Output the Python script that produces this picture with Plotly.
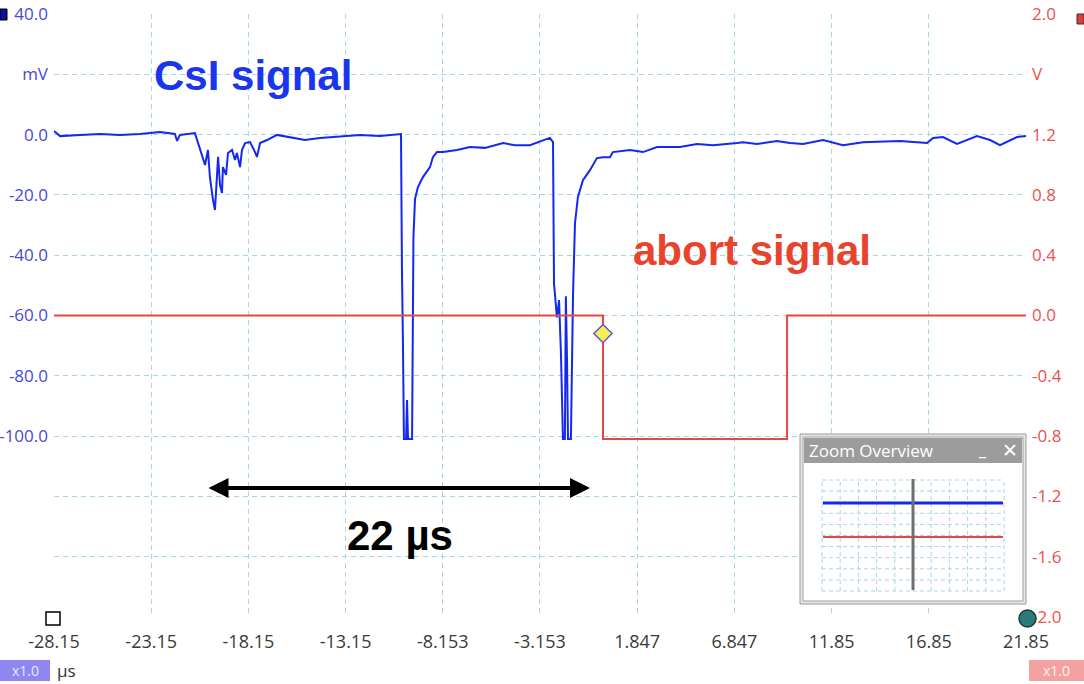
import plotly.graph_objects as go

# ---- data ----
t_csi = [-28.15, -27.84, -26.81, -25.78, -24.76, -23.73, -22.70, -21.93, -21.82, -21.67,
         -20.90, -20.74, -20.54, -20.38, -20.23, -20.13, -19.97, -19.87, -19.77, -19.71,
         -19.61, -19.51, -19.46, -19.30, -19.20, -18.99, -18.84, -18.74, -18.58, -18.48,
         -18.32, -18.07, -17.86, -17.71, -17.55, -17.19, -16.68, -16.01, -15.24, -14.47,
         -13.44, -12.41, -11.38, -10.35, -10.30, -10.25, -10.22, -10.20, -10.15, -10.04,
         -9.99, -9.94, -9.73, -9.68, -9.66, -9.58, -9.43, -9.17, -8.81, -8.66,
         -8.45, -8.14, -7.42, -6.75, -5.98, -5.05, -4.44, -3.67, -3.00, -2.64,
         -2.48, -2.46, -2.43, -2.28, -2.17, -2.07, -1.97, -1.87, -1.82, -1.76,
         -1.71, -1.56, -1.50, -1.45, -1.35, -1.20, -0.94, -0.58, -0.22, 0.09,
         0.45, 0.60, 1.48, 2.15, 2.87, 4.05, 4.93, 5.75, 6.99, 7.29,
         8.01, 9.04, 9.71, 10.38, 11.41, 12.44, 13.47, 15.37, 16.76, 17.07,
         17.58, 18.30, 19.33, 20.00, 20.51, 21.39, 21.85]
v_csi = [1.2, -0.5, -0.1, 0.2, -0.1, 0.2, 0.9, 0.2, -2.1, -0.1,
         0.5, -2.8, -6.1, -10.1, -5.1, -14.1, -21.7, -25.0, -14.1, -7.4,
         -16.7, -19.4, -10.8, -13.4, -6.1, -5.1, -8.4, -6.1, -10.8, -5.1,
         -2.8, -2.5, -5.1, -7.4, -2.8, -1.8, -0.1, -0.8, -1.8, -1.1,
         -0.5, -0.1, -0.5, 0.2, 0.2, -45.9, -54.9, -69.1, -101.0, -101.0,
         -88.0, -101.0, -101.0, -65.8, -34.0, -21.4, -17.4, -14.1, -10.8, -7.5,
         -5.8, -5.8, -5.1, -4.1, -4.4, -2.8, -3.5, -3.5, -1.8, -1.1,
         -2.5, -15.1, -49.3, -60.6, -54.9, -73.1, -101.0, -101.0, -53.6, -74.8,
         -101.0, -101.0, -77.2, -52.6, -29.4, -20.7, -15.1, -11.8, -7.8, -7.5,
         -7.5, -5.8, -5.1, -5.8, -4.1, -4.1, -3.1, -3.5, -2.8, -2.5,
         -3.1, -2.1, -2.8, -3.1, -1.8, -3.5, -2.5, -2.1, -2.8, -1.1,
         -0.8, -3.1, -0.5, -1.8, -3.5, -0.8, -0.5]

t_abort = [-28.15, 0.09, 0.09, 9.56, 9.56, 21.85]
v_abort = [0.0, 0.0, -0.82, -0.82, 0.0, 0.0]

trig_t = [0.09]
trig_v = [-0.12]

x_ticks = [-28.15, -23.15, -18.15, -13.15, -8.153, -3.153, 1.847, 6.847, 11.85, 16.85, 21.85]
x_labels = ["-28.15", "-23.15", "-18.15", "-13.15", "-8.153", "-3.153",
            "1.847", "6.847", "11.85", "16.85", "21.85"]
mv_ticks = [40, 20, 0, -20, -40, -60, -80, -100, -120, -140, -160]
mv_labels = ["40.0", "mV", "0.0", "-20.0", "-40.0", "-60.0", "-80.0", "-100.0", "", "", ""]
v_ticks = [2.0, 1.6, 1.2, 0.8, 0.4, 0.0, -0.4, -0.8, -1.2, -1.6, -2.0]
v_labels = ["2.0", "V", "1.2", "0.8", "0.4", "0.0", "-0.4", "-0.8", "-1.2", "-1.6", "-2.0"]

BLUE = "#1428f0"
RED = "#e84545"
GRID = "#a9d6e5"
FONT = "Open Sans, sans-serif"

# plot area in pixels (1084x684 page)
L, R, T, B = 54, 1026, 14, 617


def px(x):
    return (x - L) / (R - L)


def py(y):
    return (B - y) / (B - T)


def label(x, y, text, size, color, family=FONT, xanchor="center"):
    return dict(x=px(x), y=py(y), xref="paper", yref="paper", text=text, showarrow=False,
                xanchor=xanchor, yanchor="middle", font=dict(family=family, size=size, color=color))


fig = go.Figure()

fig.add_trace(go.Scatter(x=t_abort, y=v_abort, yaxis="y2", mode="lines",
                         line=dict(color=RED, width=2), showlegend=False))
fig.add_trace(go.Scatter(x=t_csi, y=v_csi, mode="lines",
                         line=dict(color=BLUE, width=2), showlegend=False))
fig.add_trace(go.Scatter(x=trig_t, y=trig_v, yaxis="y2", mode="markers",
                         marker=dict(symbol="diamond", size=14, color="#f6ee55",
                                     line=dict(color="#5a5ad0", width=1.5)),
                         showlegend=False))

shapes = []
annotations = []

# Zoom Overview inset
shapes.append(dict(type="rect", xref="paper", yref="paper", x0=px(800), x1=px(1026),
                   y0=py(604), y1=py(434), fillcolor="#e6e6e6",
                   line=dict(color="#9a9a9a", width=1), layer="above"))
shapes.append(dict(type="rect", xref="paper", yref="paper", x0=px(803), x1=px(1023),
                   y0=py(601), y1=py(437), fillcolor="white",
                   line=dict(color="#a0a0a0", width=1), layer="above"))
shapes.append(dict(type="rect", xref="paper", yref="paper", x0=px(804), x1=px(1022),
                   y0=py(463), y1=py(438), fillcolor="#9c9c9c",
                   line=dict(width=0), layer="above"))
for i in range(11):
    gx = 822 + i * 18.2
    shapes.append(dict(type="line", xref="paper", yref="paper", x0=px(gx), x1=px(gx),
                       y0=py(591), y1=py(480), layer="above",
                       line=dict(color=GRID, width=1, dash="4px,3px")))
    gy = 480 + i * 11.1
    shapes.append(dict(type="line", xref="paper", yref="paper", x0=px(822), x1=px(1004),
                       y0=py(gy), y1=py(gy), layer="above",
                       line=dict(color=GRID, width=1, dash="4px,3px")))
shapes.append(dict(type="line", xref="paper", yref="paper", x0=px(823), x1=px(1003),
                   y0=py(503), y1=py(503), layer="above", line=dict(color=BLUE, width=3)))
shapes.append(dict(type="line", xref="paper", yref="paper", x0=px(823), x1=px(1003),
                   y0=py(537), y1=py(537), layer="above", line=dict(color=RED, width=2)))
shapes.append(dict(type="line", xref="paper", yref="paper", x0=px(913), x1=px(913),
                   y0=py(590), y1=py(479), layer="above", line=dict(color="#6e6e6e", width=3)))
annotations += [
    label(807, 450, "Zoom Overview", 17, "white", xanchor="left"),
    label(982, 449, "<b>_</b>", 17, "white"),
    label(1010, 450, "<b>✕</b>", 19, "white", family="DejaVu Sans"),
]

# corner markers of the scope window
shapes += [
    dict(type="rect", xref="paper", yref="paper", x0=px(0), x1=px(7), y0=py(20), y1=py(9),
         fillcolor="#10109a", line=dict(color="black", width=1), layer="above"),
    dict(type="rect", xref="paper", yref="paper", x0=px(1077), x1=px(1084), y0=py(24), y1=py(14),
         fillcolor="#e03c3c", line=dict(color="#333", width=1), layer="above"),
    dict(type="rect", xref="paper", yref="paper", x0=px(46), x1=px(60), y0=py(625), y1=py(612),
         fillcolor="white", line=dict(color="black", width=1.5), layer="above"),
    dict(type="circle", xref="paper", yref="paper", x0=px(1019), x1=px(1036), y0=py(627), y1=py(610),
         fillcolor="#2e7a78", line=dict(color="#1b3b3b", width=1.5), layer="above"),
    dict(type="rect", xref="paper", yref="paper", x0=px(0), x1=px(50), y0=py(681), y1=py(660),
         fillcolor="#8f86f2", line=dict(width=0), layer="above"),
    dict(type="rect", xref="paper", yref="paper", x0=px(1029), x1=px(1084), y0=py(681), y1=py(660),
         fillcolor="#f2a0a0", line=dict(width=0), layer="above"),
]
annotations += [
    label(25, 670, "x1.0", 14, "#e8e6ff"),
    label(1056, 670, "x1.0", 14, "#fff0f0"),
    label(55, 670, "µs", 17, "#333", xanchor="left"),
]

# labels and the 22 µs arrow
annotations += [
    label(253, 76, "<b>CsI signal</b>", 42, "#1a35ee", family="Liberation Sans, Arial"),
    label(752, 250, "<b>abort signal</b>", 42, "#e8432c", family="Liberation Sans, Arial"),
    label(400, 535, "<b>22 µs</b>", 42, "black", family="Liberation Sans, Arial"),
    dict(x=px(590), y=py(488), ax=207 - 590, ay=0, xref="paper", yref="paper",
         axref="pixel", ayref="pixel", text="", showarrow=True, arrowside="end+start",
         arrowhead=2, arrowsize=1, arrowwidth=4, arrowcolor="black"),
]

fig.update_layout(
    width=1084, height=684,
    margin=dict(l=L, r=1084 - R, t=T, b=684 - B),
    paper_bgcolor="white", plot_bgcolor="white",
    font=dict(family=FONT),
    shapes=shapes, annotations=annotations,
    xaxis=dict(range=[-28.15, 21.85], tickvals=x_ticks, ticktext=x_labels, automargin=False,
               showgrid=True, gridcolor=GRID, griddash="5px,4px", gridwidth=1,
               zeroline=False, showline=False, ticks="", ticklabelstandoff=12,
               tickfont=dict(size=18, color="#3a3a3a")),
    yaxis=dict(range=[-160, 40], tickvals=mv_ticks, ticktext=mv_labels, automargin=False,
               showgrid=True, gridcolor=GRID, griddash="5px,4px", gridwidth=1,
               zeroline=False, showline=False, ticks="", ticklabelstandoff=5,
               tickfont=dict(size=17, color="#4848d8")),
    yaxis2=dict(range=[-2, 2], tickvals=v_ticks, ticktext=v_labels, overlaying="y",
                side="right", showgrid=False, zeroline=False, showline=False, ticks="",
                automargin=False, ticklabelstandoff=5,
                tickfont=dict(size=17, color="#e8524f")),
)

fig.write_html("out.html", config={"displayModeBar": False},
               post_script="document.body.style.margin='0px';")
